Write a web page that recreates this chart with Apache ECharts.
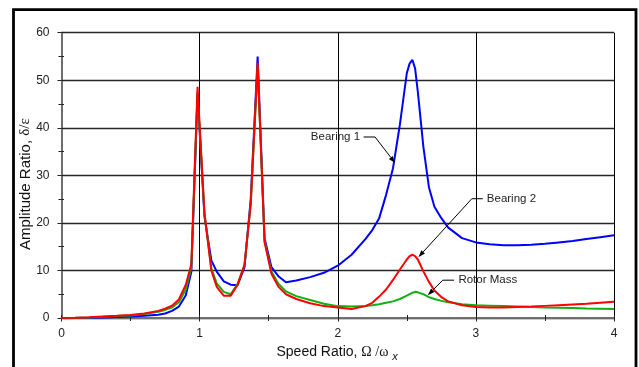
<!DOCTYPE html>
<html>
<head>
<meta charset="utf-8">
<script src="https://cdn.jsdelivr.net/npm/echarts@6/dist/echarts.min.js"></script>
<style>
  html, body { margin: 0; padding: 0; background: #ffffff; }
  #chart { width: 639px; height: 367px; }
</style>
</head>
<body>
<div id="chart"></div>
<script>
// Speed ratio Omega/omega_x at which the response was evaluated
const speedRatio = [
  0, 0.1, 0.2, 0.3, 0.4, 0.5, 0.6, 0.7,
  0.75, 0.8, 0.85, 0.9, 0.94,
  0.985, 1.035, 1.085, 1.125, 1.175, 1.225, 1.275, 1.325, 1.37, 1.42, 1.47, 1.52, 1.57, 1.625,
  1.7, 1.8, 1.9, 2.0, 2.1, 2.2,
  2.25, 2.3, 2.35, 2.4, 2.45, 2.5,
  2.52, 2.54, 2.56, 2.58, 2.62, 2.66, 2.7, 2.75, 2.8,
  2.9, 3.0, 3.1, 3.2, 3.3, 3.4, 3.5, 3.6, 3.7, 3.8, 3.9, 4.0
];

// Amplitude ratio delta/epsilon at each location
const bearing1 = [
  0, 0.02, 0.05, 0.1, 0.2, 0.3, 0.45, 0.7,
  0.95, 1.5, 2.4, 4.8, 9.7,
  47, 21.3, 12.1, 9.7, 7.7, 7.0, 6.9, 10.7, 25, 55, 16.8, 10.7, 8.8, 7.5,
  7.9, 8.6, 9.5, 11.0, 13.3, 16.6,
  18.5, 21.0, 25.9, 31.5, 40.7, 51.5,
  53.5, 54.3, 52.5, 47.5, 36, 27.5, 23.4, 21.0, 19.0,
  16.8, 15.9, 15.5, 15.3, 15.3, 15.4, 15.6, 15.9, 16.2, 16.6, 17.0, 17.4
];
const bearing2 = [
  0, 0.05, 0.15, 0.3, 0.45, 0.65, 0.95, 1.5,
  1.95, 2.6, 3.9, 7.0, 11.3,
  48.6, 22, 10, 6.5, 4.7, 4.7, 7.0, 11.2, 24, 53.7, 16, 9.3, 6.6, 5.0,
  4.0, 3.1, 2.5, 2.2, 1.9, 2.5,
  3.2, 4.5, 6.0, 8.0, 10.2, 12.3,
  13.0, 13.3, 13.0, 12.3, 9.8, 7.6, 5.8, 4.4, 3.5,
  2.7, 2.3, 2.2, 2.2, 2.3, 2.4, 2.55, 2.7, 2.85, 3.0, 3.2, 3.4
];
const rotorMass = [
  0, 0.04, 0.12, 0.25, 0.4, 0.55, 0.85, 1.3,
  1.7, 2.2, 3.3, 6.0, 10.6,
  47.5, 22, 10.4, 7.2, 5.5, 5.0, 7.2, 11.2, 24, 53, 16.2, 9.8, 7.2, 5.6,
  4.6, 3.8, 3.0, 2.5, 2.4, 2.5,
  2.7, 2.9, 3.2, 3.5, 4.0, 4.7,
  5.0, 5.3, 5.5, 5.4, 5.0, 4.4, 4.0, 3.6, 3.3,
  2.9, 2.7, 2.6, 2.5, 2.4, 2.3, 2.2, 2.15, 2.1, 2.0, 1.95, 1.9
];

// Callout labels and the curve points they point at
const calloutNames = ['Bearing 1', 'Bearing 2', 'Rotor Mass'];
const calloutPoints = [[2.415, 32.6], [2.584, 12.8], [2.652, 4.8]];

const SANS = '"Liberation Sans", Arial, sans-serif';
const SERIF = '"Liberation Serif", "Times New Roman", serif';

const chart = echarts.init(document.getElementById('chart'), null, { renderer: 'canvas' });

function pairs(ys) { return speedRatio.map((x, i) => [x, ys[i]]); }

function lineSeries(name, ys, color) {
  return {
    name: name,
    type: 'line',
    data: pairs(ys),
    showSymbol: false,
    smooth: false,
    lineStyle: { color: color, width: 2 },
    itemStyle: { color: color }
  };
}

chart.setOption({
  animation: false,
  backgroundColor: '#ffffff',
  grid: { left: 61.5, right: 25, top: 32.7, bottom: 49, outerBoundsMode: 'none' },
  xAxis: [{
    type: 'value', min: 0, max: 4, interval: 1, position: 'bottom',
    axisLine: { show: true, onZero: false, lineStyle: { color: '#6e6e6e', width: 2 } },
    axisTick: { show: true, inside: false, length: 3.5, lineStyle: { color: '#222' } },
    minorTick: { show: true, splitNumber: 2, length: 3, lineStyle: { color: '#222' } },
    splitLine: { show: true, lineStyle: { color: '#000', width: 1 } },
    axisLabel: { margin: 10, fontSize: 12, color: '#222', fontFamily: SANS }
  }, {
    type: 'value', min: 0, max: 4, interval: 0.5, position: 'bottom', offset: 0,
    axisLine: { show: false },
    axisTick: { show: true, inside: true, length: 3, lineStyle: { color: '#222' } },
    axisLabel: { show: false },
    splitLine: { show: false }
  }],
  yAxis: [{
    type: 'value', min: 0, max: 60, interval: 10, position: 'left',
    axisLine: { show: true, onZero: false, lineStyle: { color: '#6e6e6e', width: 2 } },
    axisTick: { show: true, inside: false, length: 4, lineStyle: { color: '#222' } },
    minorTick: { show: true, splitNumber: 2, length: 3, lineStyle: { color: '#222' } },
    splitLine: { show: true, lineStyle: { color: '#262626', width: 1.3 } },
    axisLabel: { margin: 12, fontSize: 12, color: '#222', fontFamily: SANS }
  }, {
    type: 'value', min: 0, max: 60, interval: 5, position: 'left', offset: 0,
    axisLine: { show: false },
    axisTick: { show: true, inside: true, length: 2.5, lineStyle: { color: '#222' } },
    axisLabel: { show: false },
    splitLine: { show: false }
  }],
  series: [
    lineSeries('Bearing 1', bearing1, '#0000ff'),
    lineSeries('Rotor Mass', rotorMass, '#10b010'),
    lineSeries('Bearing 2', bearing2, '#ff0000')
  ]
});

// Text width helper for placing the subscript after the axis title
const measureCtx = document.createElement('canvas').getContext('2d');
function textWidth(str, font) { measureCtx.font = font; return measureCtx.measureText(str).width; }

const graphics = [];

// Outer frame
graphics.push({
  type: 'rect', silent: true, z: 100,
  shape: { x: 13.5, y: 9.7, width: 622.5, height: 420 },
  style: { fill: null, stroke: '#000', lineWidth: 2.8 }
});

// Y axis title (rotated)
graphics.push({
  type: 'text', x: 25.5, y: 250, rotation: Math.PI / 2, silent: true,
  style: {
    text: '{a|Amplitude Ratio, }{g|δ/ε}',
    align: 'left', verticalAlign: 'middle',
    rich: {
      a: { fontFamily: SANS, fontSize: 15, fill: '#111' },
      g: { fontFamily: SERIF, fontSize: 15, fill: '#111' }
    }
  }
});

// X axis title with subscript
const xTitleLeft = 276.5;
const xMainA = 'Speed Ratio, ';
const xMainG = 'Ω /ω';
const wA = textWidth(xMainA, '14px ' + SANS);
const wG = textWidth(xMainG, '14px ' + SERIF);
graphics.push({
  type: 'text', x: xTitleLeft, y: 352, silent: true,
  style: {
    text: '{a|' + xMainA + '}{g|' + xMainG + '}',
    align: 'left', verticalAlign: 'middle',
    rich: {
      a: { fontFamily: SANS, fontSize: 14, fill: '#111' },
      g: { fontFamily: SERIF, fontSize: 14, fill: '#111' }
    }
  }
});
graphics.push({
  type: 'text', x: xTitleLeft + wA + wG + 4, y: 357, silent: true,
  style: { text: 'x', fontFamily: SANS, fontSize: 11, fontStyle: 'italic', fill: '#111', align: 'left', verticalAlign: 'middle' }
});

// Callouts: label, horizontal leader, diagonal leader and arrow head
const calloutLayout = [
  { elbow: [-20, -26], lead: -11.5, textGap: -3.5, align: 'right' },
  { elbow: [53.4, -58.4], lead: 11, textGap: 4, align: 'left' },
  { elbow: [15, -15], lead: 11.3, textGap: 4.3, align: 'left' }
];
calloutNames.forEach((name, i) => {
  const tip = chart.convertToPixel({ gridIndex: 0 }, calloutPoints[i]);
  const L = calloutLayout[i];
  const ex = tip[0] + L.elbow[0], ey = tip[1] + L.elbow[1];
  const lx = ex + L.lead;
  const tx = lx + L.textGap;
  const dx = tip[0] - ex, dy = tip[1] - ey;
  const len = Math.sqrt(dx * dx + dy * dy);
  const ux = dx / len, uy = dy / len;
  const bx = tip[0] - ux * 7, by = tip[1] - uy * 7;
  const nx = -uy, ny = ux;
  graphics.push({
    type: 'polyline', silent: true, z: 50,
    shape: { points: [[lx, ey], [ex, ey], [bx, by]] },
    style: { stroke: '#000', lineWidth: 1, fill: null }
  });
  graphics.push({
    type: 'polygon', silent: true, z: 50,
    shape: { points: [[tip[0], tip[1]], [bx + nx * 2.4, by + ny * 2.4], [bx - nx * 2.4, by - ny * 2.4]] },
    style: { fill: '#000', stroke: null }
  });
  graphics.push({
    type: 'text', silent: true, z: 50, x: tx, y: ey,
    style: { text: name, fontFamily: SANS, fontSize: 11.5, fill: '#222', align: L.align, verticalAlign: 'middle' }
  });
});

chart.setOption({ graphic: graphics });
</script>
</body>
</html>
